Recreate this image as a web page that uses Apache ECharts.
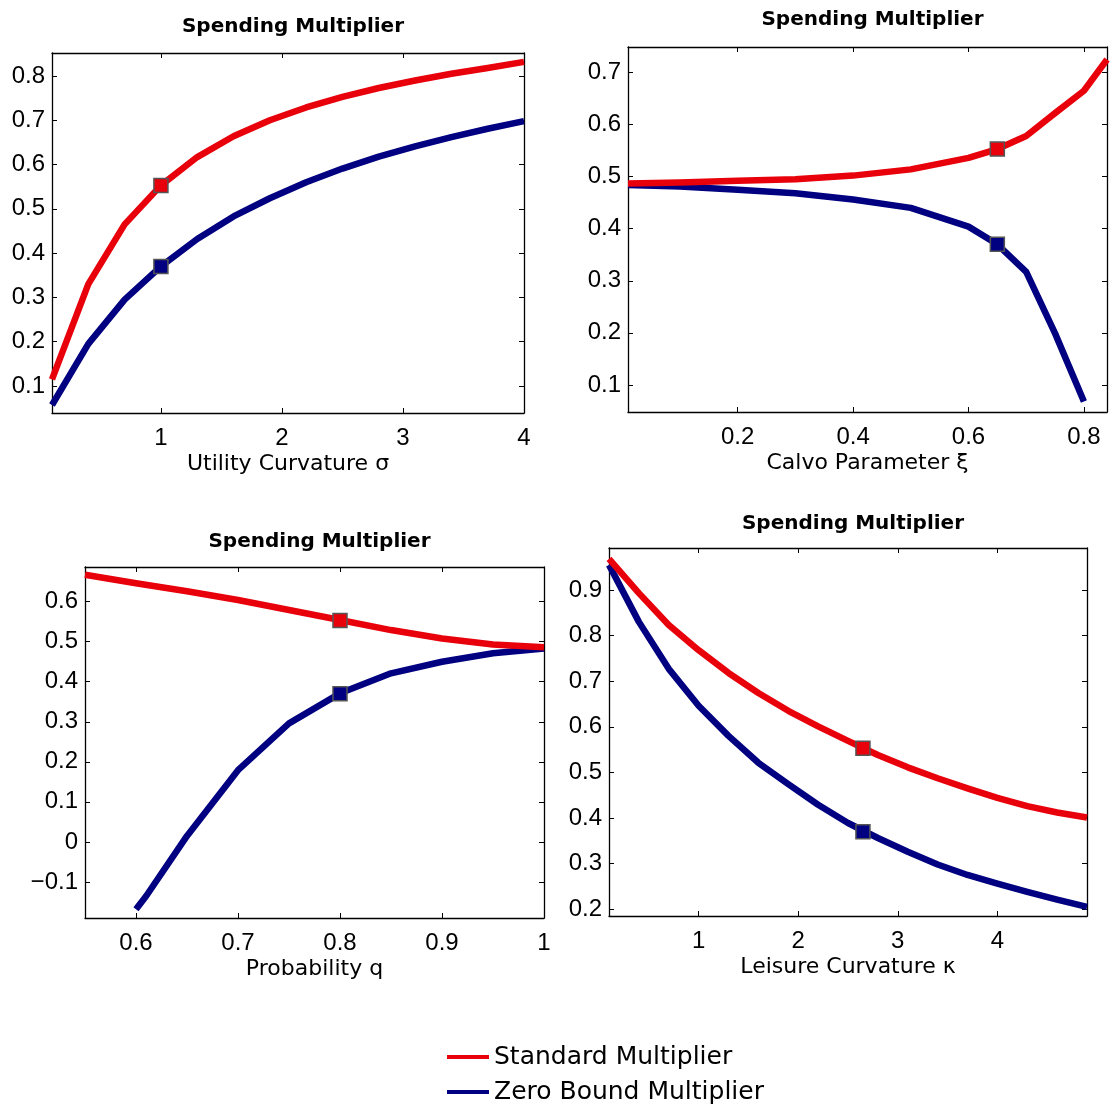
<!DOCTYPE html>
<html>
<head>
<meta charset="utf-8">
<script src="https://cdn.jsdelivr.net/npm/echarts@6/dist/echarts.min.js"></script>
<style>
html,body{margin:0;padding:0;background:#fff;}
#chart{width:1110px;height:1111px;}
</style>
</head>
<body>
<div id="chart"></div>
<script>
// ---------------- DATA ----------------
const titleText = 'Spending Multiplier';
const seriesNames = ['Standard Multiplier', 'Zero Bound Multiplier'];
const axisNames = ['Utility Curvature \u03c3', 'Calvo Parameter \u03be', 'Probability q', 'Leisure Curvature \u03ba'];

// Panel 1: utility curvature sigma
const p1X   = [0.1, 0.4, 0.7, 1.0, 1.3, 1.6, 1.9, 2.2, 2.5, 2.8, 3.1, 3.4, 3.7, 4.0];
const p1Std = [0.115, 0.330, 0.465, 0.553, 0.617, 0.664, 0.700, 0.729, 0.753, 0.773, 0.790, 0.805, 0.818, 0.832];
const p1Zlb = [0.057, 0.195, 0.295, 0.370, 0.432, 0.483, 0.524, 0.560, 0.591, 0.618, 0.641, 0.662, 0.681, 0.698];
const p1Mark = [1.0, 0.553, 0.370];
const p1XTicks = [1, 2, 3, 4];
const p1YTicks = [0.1, 0.2, 0.3, 0.4, 0.5, 0.6, 0.7, 0.8];
const p1Range = [0.1, 4, 0.039, 0.852];

// Panel 2: Calvo parameter xi
const p2X   = [0.01, 0.1, 0.2, 0.3, 0.4, 0.5, 0.6, 0.65, 0.7, 0.75, 0.8, 0.84];
const p2Std = [0.487, 0.489, 0.492, 0.495, 0.502, 0.514, 0.536, 0.553, 0.578, 0.622, 0.665, 0.725];
const p2ZX  = [0.01, 0.1, 0.2, 0.3, 0.4, 0.5, 0.6, 0.65, 0.7, 0.75, 0.8];
const p2Zlb = [0.484, 0.481, 0.475, 0.468, 0.456, 0.440, 0.404, 0.370, 0.317, 0.199, 0.068];
const p2Mark = [0.65, 0.553, 0.370];
const p2XTicks = [0.2, 0.4, 0.6, 0.8];
const p2YTicks = [0.1, 0.2, 0.3, 0.4, 0.5, 0.6, 0.7];
const p2Range = [0.01, 0.84, 0.048, 0.749];

// Panel 3: probability q
const p3X   = [0.55, 0.6, 0.65, 0.7, 0.75, 0.8, 0.85, 0.9, 0.95, 1.0];
const p3Std = [0.667, 0.646, 0.626, 0.604, 0.579, 0.554, 0.529, 0.508, 0.493, 0.486];
const p3ZX  = [0.6, 0.61, 0.65, 0.7, 0.75, 0.8, 0.85, 0.9, 0.95, 1.0];
const p3Zlb = [-0.168, -0.135, 0.015, 0.179, 0.296, 0.371, 0.421, 0.450, 0.471, 0.483];
const p3Mark = [0.8, 0.553, 0.370];
const p3XTicks = [0.6, 0.7, 0.8, 0.9, 1];
const p3YTicks = [-0.1, 0, 0.1, 0.2, 0.3, 0.4, 0.5, 0.6];
const p3Range = [0.55, 1, -0.19, 0.6865];

// Panel 4: leisure curvature kappa
const p4X   = [0.1, 0.4, 0.7, 1.0, 1.3, 1.6, 1.9, 2.2, 2.5, 2.8, 3.1, 3.4, 3.7, 4.0, 4.3, 4.6, 4.9];
const p4Std = [0.968, 0.893, 0.823, 0.768, 0.718, 0.674, 0.635, 0.601, 0.569, 0.538, 0.511, 0.487, 0.465, 0.444, 0.426, 0.412, 0.401];
const p4Zlb = [0.955, 0.830, 0.727, 0.646, 0.580, 0.521, 0.474, 0.429, 0.389, 0.356, 0.326, 0.298, 0.275, 0.256, 0.238, 0.221, 0.205];
const p4Mark = [2.65, 0.553, 0.370];
const p4XTicks = [1, 2, 3, 4];
const p4YTicks = [0.2, 0.3, 0.4, 0.5, 0.6, 0.7, 0.8, 0.9];
const p4Range = [0.1, 4.9, 0.185, 0.992];

// ---------------- BUILD ----------------
const RED = '#e8000b';
const BLUE = '#000080';
const zip = (xs, ys) => xs.map((x, i) => [x, ys[i]]);

const panels = [
  {x: p1X, std: p1Std, zx: p1X, zlb: p1Zlb, mark: p1Mark, xt: p1XTicks, yt: p1YTicks, r: p1Range,
   grid: {left: 52, top: 53, width: 472, height: 360}, titleTop: 12},
  {x: p2X, std: p2Std, zx: p2ZX, zlb: p2Zlb, mark: p2Mark, xt: p2XTicks, yt: p2YTicks, r: p2Range,
   grid: {left: 628, top: 47, width: 479, height: 365}, titleTop: 5},
  {x: p3X, std: p3Std, zx: p3ZX, zlb: p3Zlb, mark: p3Mark, xt: p3XTicks, yt: p3YTicks, r: p3Range,
   grid: {left: 85, top: 567, width: 459, height: 351}, titleTop: 527},
  {x: p4X, std: p4Std, zx: p4X, zlb: p4Zlb, mark: p4Mark, xt: p4XTicks, yt: p4YTicks, r: p4Range,
   grid: {left: 609, top: 548, width: 478, height: 368}, titleTop: 509}
];

const fmt = v => {
  const s = String(+(+v).toFixed(2));
  return s.charAt(0) === '-' ? '\u2212' + s.slice(1) : s;
};
const axisLineStyle = {show: true, onZero: false, lineStyle: {color: '#000', width: 1.3}};
const tickFont = {fontFamily: 'Liberation Sans', fontSize: 24, color: '#000'};

const grids = [], xAxes = [], yAxes = [], series = [], titles = [];
panels.forEach((p, i) => {
  grids.push(Object.assign({containLabel: false}, p.grid));
  titles.push({
    text: titleText,
    left: p.grid.left + p.grid.width / 2,
    top: p.titleTop,
    textAlign: 'center',
    textStyle: {fontFamily: 'DejaVu Sans', fontWeight: 'bold', fontSize: 20, color: '#000'}
  });
  xAxes.push({
    type: 'value', gridIndex: i, position: 'bottom', min: p.r[0], max: p.r[1],
    name: axisNames[i], nameLocation: 'middle', nameGap: 40,
    nameTextStyle: {fontFamily: 'DejaVu Sans', fontSize: 22, color: '#000'},
    axisLine: axisLineStyle,
    axisTick: {show: true, inside: true, length: 5, customValues: p.xt, lineStyle: {color: '#000', width: 1}},
    axisLabel: Object.assign({show: true, margin: 13, customValues: p.xt, formatter: fmt}, tickFont),
    splitLine: {show: false}
  });
  xAxes.push({
    type: 'value', gridIndex: i, position: 'top', min: p.r[0], max: p.r[1],
    axisLine: axisLineStyle,
    axisTick: {show: true, inside: true, length: 5, customValues: p.xt, lineStyle: {color: '#000', width: 1}},
    axisLabel: {show: false, customValues: p.xt},
    splitLine: {show: false}
  });
  yAxes.push({
    type: 'value', gridIndex: i, position: 'left', min: p.r[2], max: p.r[3],
    axisLine: axisLineStyle,
    axisTick: {show: true, inside: true, length: 5, customValues: p.yt, lineStyle: {color: '#000', width: 1}},
    axisLabel: Object.assign({show: true, margin: 7, customValues: p.yt, formatter: fmt}, tickFont),
    splitLine: {show: false}
  });
  yAxes.push({
    type: 'value', gridIndex: i, position: 'right', min: p.r[2], max: p.r[3],
    axisLine: axisLineStyle,
    axisTick: {show: true, inside: true, length: 5, customValues: p.yt, lineStyle: {color: '#000', width: 1}},
    axisLabel: {show: false, customValues: p.yt},
    splitLine: {show: false}
  });
  const xi = 2 * i, yi = 2 * i;
  series.push({
    type: 'line', name: seriesNames[1], xAxisIndex: xi, yAxisIndex: yi,
    data: zip(p.zx, p.zlb), showSymbol: false, symbol: 'none', z: 2,
    lineStyle: {color: BLUE, width: 6.5, join: 'round', cap: 'butt'}, itemStyle: {color: BLUE}
  });
  series.push({
    type: 'line', name: seriesNames[0], xAxisIndex: xi, yAxisIndex: yi,
    data: zip(p.x, p.std), showSymbol: false, symbol: 'none', z: 3,
    lineStyle: {color: RED, width: 6.5, join: 'round', cap: 'butt'}, itemStyle: {color: RED}
  });
  series.push({
    type: 'scatter', name: 'mark-std-' + i, xAxisIndex: xi, yAxisIndex: yi,
    data: [[p.mark[0], p.mark[1]]], symbol: 'rect', symbolSize: 14, z: 5,
    itemStyle: {color: RED, borderColor: '#555', borderWidth: 1.5, opacity: 1}
  });
  series.push({
    type: 'scatter', name: 'mark-zlb-' + i, xAxisIndex: xi, yAxisIndex: yi,
    data: [[p.mark[0], p.mark[2]]], symbol: 'rect', symbolSize: 14, z: 5,
    itemStyle: {color: BLUE, borderColor: '#555', borderWidth: 1.5, opacity: 1}
  });
});

const chart = echarts.init(document.getElementById('chart'), null, {renderer: 'canvas'});
chart.setOption({
  animation: false,
  backgroundColor: '#fff',
  title: titles,
  grid: grids,
  xAxis: xAxes,
  yAxis: yAxes,
  legend: {
    data: seriesNames, orient: 'vertical', left: 447, top: 1044, padding: 0,
    icon: 'rect', itemWidth: 42, itemHeight: 4, itemGap: 9,
    textStyle: {fontFamily: 'DejaVu Sans', fontSize: 25, lineHeight: 26, color: '#000'},
    selectedMode: false
  },
  tooltip: {show: false},
  series: series
});
</script>
</body>
</html>
